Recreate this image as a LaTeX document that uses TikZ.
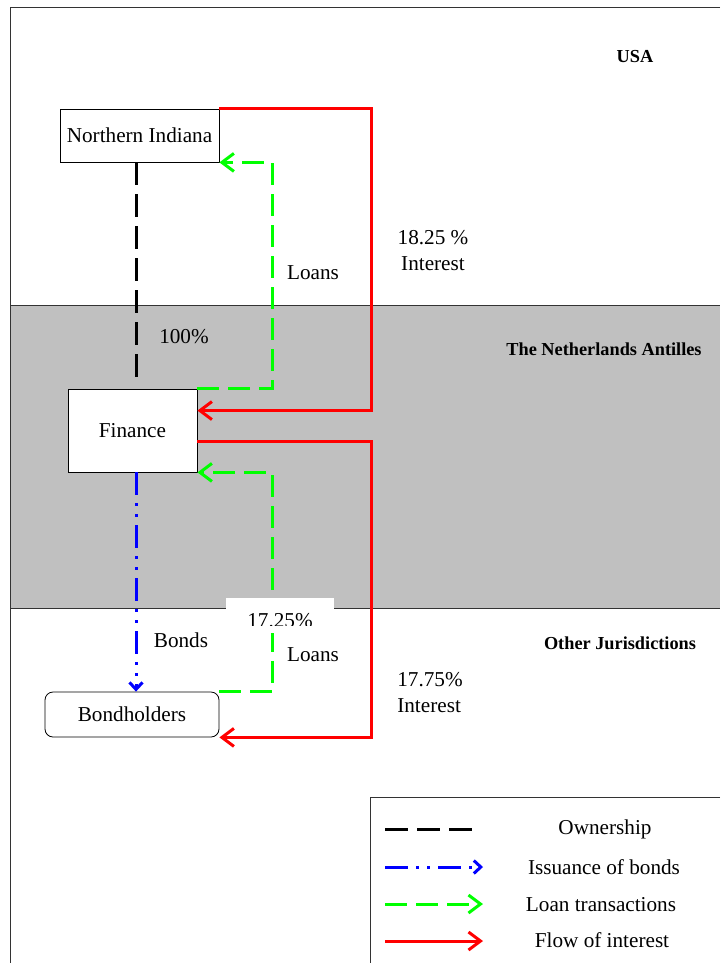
\documentclass[tikz,border=0pt]{standalone}
\usepackage{fontspec}
\setmainfont{Liberation Serif}
\usepackage{tikz}
\usetikzlibrary{positioning,arrows.meta}
\definecolor{bandgray}{HTML}{C0C0C0}
\definecolor{framegray}{HTML}{333333}
\definecolor{loangreen}{HTML}{00FF00}
\tikzstyle{entity}=[draw=black,line width=0.8pt,fill=white,inner sep=0pt]
\tikzstyle{region}=[font=\fontsize{18.3}{20}\selectfont\bfseries]
\tikzstyle{ownership}=[black,line width=3pt,dash pattern=on 23pt off 9pt]
\tikzstyle{bonds}=[blue,line width=3pt,dash pattern=on 23pt off 8pt on 3pt off 8pt on 3pt off 8pt,-{Straight Barb[length=7pt,width=13pt]}]
\tikzstyle{loan}=[loangreen,line width=3pt,dash pattern=on 22pt off 9pt,-{Straight Barb[length=12pt,width=18pt]}]
\tikzstyle{interest}=[red,line width=3pt,-{Straight Barb[length=12pt,width=18pt]}]
\begin{document}
\begin{tikzpicture}[x=1pt,y=-1pt,font=\fontsize{21.2}{26}\selectfont]
		\useasboundingbox (0,0) rectangle (720,963);

		% jurisdictions
		\fill[bandgray] (10,305) rectangle (720,608);
		\draw[framegray,line width=1pt] (10,305) -- (720,305);
		\draw[framegray,line width=1pt] (10,608) -- (720,608);
		\draw[framegray,line width=1.2pt] (720,7.5) -- (10.5,7.5) -- (10.5,963);
		\node[region] (usa) at (635,57) {USA};
		\node[region] (antilles) at (604,349) {The Netherlands Antilles};
		\node[region] (other) at (620,643) {Other Jurisdictions};

		% nodes
		\node[entity,minimum width=159pt,minimum height=53pt] (ni) at (139.5,135.5) {Northern Indiana};
		\node[entity,minimum width=129pt,minimum height=83pt] (fin) at (132.5,430.5) {Finance};
		\node[entity,rounded corners=8pt,minimum width=174pt,minimum height=45pt] (bh) at (132,714.5) {Bondholders};

		% ownership and bonds
		\draw[ownership] ([xshift=-3.5pt]ni.south) -- ([xshift=-3.5pt,yshift=5pt]ni.south |- fin.north);
		\draw[bonds] ([xshift=-3.5pt]ni.south |- fin.south) -- ([xshift=-3.5pt]ni.south |- bh.north);

		% loans
		\draw[loan] (fin.north east) -- ++(75,0) |- (ni.south east);
		\draw[loan] (bh.north east) -- ++(53,0) |- (fin.south east);

		% interest
		\draw[interest] (ni.north east) -- ++(152,0) |- ([yshift=-22pt]fin.north east);
		\draw[interest] ([yshift=-53pt]fin.north east) -- ++(174,0) |- (bh.south east);

		% labels
		\node (loans-top) at (313,273) {Loans};
		\node (pct-own) at (184,337) {100\%};
		\node[align=center] (int-top) at (433,251) {18.25 \%\\ Interest};
		\node (bonds-lbl) at (181,640) {Bonds};
		\node (loans-bot) at (313,655) {Loans};
		\node[align=left] (int-bot) at (430,693) {17.75\%\\Interest};
		\fill[white] (226,598) rectangle (334,633);
		\begin{scope}
			\clip (226,598) rectangle (334,625);
			\node[anchor=base] (pct-loan) at (280,627) {17.25\%};
		\end{scope}

		% legend
		\draw[framegray,line width=1.2pt] (720,797.5) -- (370.5,797.5) -- (370.5,963);
		\coordinate (own-a) at (385,829);
		\coordinate (own-b) at (475,829);
		\coordinate (bond-a) at (385,867);
		\coordinate (bond-b) at (483,867);
		\coordinate (loan-a) at (385,904);
		\coordinate (loan-b) at (483,904);
		\coordinate (int-a) at (385,941);
		\coordinate (int-b) at (483,941);
		\draw[ownership] (own-a) -- (own-b);
		\draw[bonds] (bond-a) -- (bond-b);
		\draw[loan] (loan-a) -- (loan-b);
		\draw[interest] (int-a) -- (int-b);
		\node (own-lbl) at (605,829) {Ownership};
		\node (bond-lbl) at (604,867) {Issuance of bonds};
		\node (loan-lbl) at (601,905) {Loan transactions};
		\node (int-lbl) at (602,940) {Flow of interest};
	\end{tikzpicture}
\end{document}
